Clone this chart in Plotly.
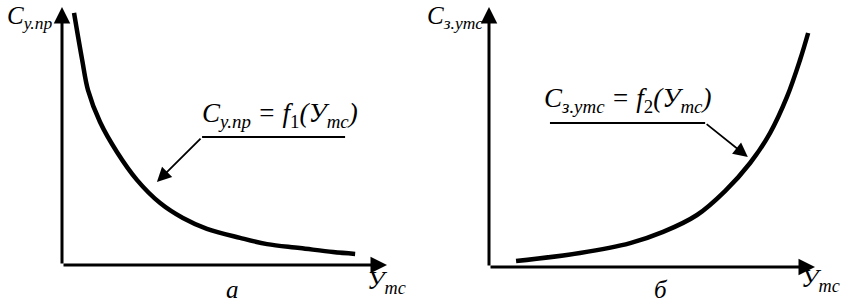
import plotly.graph_objects as go

# Panel a: C_у.пр = f1(У_тс) (decreasing)
a_x = [0.37, 0.62, 0.80, 1.17, 1.69, 2.31, 3.02, 3.72, 4.46, 5.48, 6.31, 7.32, 8.34, 9.02]
a_y = [9.77, 7.95, 6.78, 5.54, 4.38, 3.29, 2.40, 1.82, 1.40, 1.05, 0.81, 0.66, 0.50, 0.43]

# Panel б: C_з.утс = f2(У_тс) (increasing)
b_x = [0.83, 2.79, 4.33, 5.34, 6.38, 7.24, 8.01, 8.62, 9.14, 9.54, 9.79]
b_y = [0.23, 0.54, 0.92, 1.35, 2.00, 2.92, 4.00, 5.15, 6.54, 7.96, 9.00]

label_a_y = "<i>С<sub>у.пр</sub></i>"
label_b_y = "<i>С<sub>з.утс</sub></i>"
label_x = "<i>У<sub>тс</sub></i>"
formula_a = "<i>С<sub>у.пр</sub> = f</i><sub>1</sub><i>(У<sub>тс</sub>)</i>"
formula_b = "<i>С<sub>з.утс</sub> = f</i><sub>2</sub><i>(У<sub>тс</sub>)</i>"
panel_a = "<i>а</i>"
panel_b = "<i>б</i>"

W, H = 853, 304
FONT = "Liberation Serif"
INK = "#000000"

fig = go.Figure()
fig.add_trace(go.Scatter(x=a_x, y=a_y, mode="lines",
                         line=dict(color=INK, width=4.5, shape="spline", smoothing=1.0),
                         xaxis="x", yaxis="y", showlegend=False, hoverinfo="skip"))
fig.add_trace(go.Scatter(x=b_x, y=b_y, mode="lines",
                         line=dict(color=INK, width=4.5, shape="spline", smoothing=1.0),
                         xaxis="x2", yaxis="y2", showlegend=False, hoverinfo="skip"))

def px_x(p):
    return p / W

def px_y(p):
    return (H - p) / H

ax_common = dict(visible=False, fixedrange=True)
fig.update_layout(
    width=W, height=H,
    margin=dict(l=0, r=0, t=0, b=0),
    paper_bgcolor="white", plot_bgcolor="white",
    xaxis=dict(domain=[px_x(62), px_x(387)], range=[0, 10], anchor="y", **ax_common),
    yaxis=dict(domain=[px_y(265), px_y(7)], range=[0, 10], anchor="x", **ax_common),
    xaxis2=dict(domain=[px_x(489), px_x(815)], range=[0, 10], anchor="y2", **ax_common),
    yaxis2=dict(domain=[px_y(267), px_y(7)], range=[0, 10], anchor="x2", **ax_common),
    showlegend=False,
)

annotations = []

def arrow(xref, yref, x0, y0, x1, y1, width, size):
    annotations.append(dict(x=x1, y=y1, ax=x0, ay=y0, xref=xref, yref=yref, axref=xref, ayref=yref,
                            text="", showarrow=True, arrowhead=2, arrowsize=size, arrowwidth=width,
                            arrowcolor=INK, standoff=0, startstandoff=0))

# axes with arrows
arrow("x", "y", 0, 0, 10, 0, 3, 1.1)
arrow("x", "y", 0, 0, 0, 10, 3, 1.1)
arrow("x2", "y2", 0, 0, 10, 0, 3, 1.1)
arrow("x2", "y2", 0, 0, 0, 10, 3, 1.1)

# callout arrows
arrow("x", "y", 4.31, 4.96, 2.92, 3.22, 1.8, 1.6)
arrow("x2", "y2", 6.63, 5.54, 7.94, 4.23, 1.8, 1.6)

shapes = [
    dict(type="line", xref="x", yref="y", x0=4.31, y0=4.96, x1=8.71, y1=4.96, line=dict(color=INK, width=2)),
    dict(type="line", xref="x2", yref="y2", x0=1.87, y0=5.54, x1=6.63, y1=5.54, line=dict(color=INK, width=2)),
]

def text(xref, yref, x, y, s, size, xanchor="center", yanchor="middle"):
    annotations.append(dict(x=x, y=y, xref=xref, yref=yref, text=s, showarrow=False,
                            xanchor=xanchor, yanchor=yanchor,
                            font=dict(family=FONT, size=size, color=INK)))

text("paper", "paper", px_x(200), px_y(115), formula_a, 27, "left", "middle")
text("paper", "paper", px_x(542), px_y(100), formula_b, 27, "left", "middle")

text("paper", "paper", px_x(5), px_y(17), label_a_y, 25, "left", "middle")
text("paper", "paper", px_x(425), px_y(17), label_b_y, 25, "left", "middle")
text("paper", "paper", px_x(365), px_y(282), label_x, 26, "left", "middle")
text("paper", "paper", px_x(799), px_y(280), label_x, 26, "left", "middle")
text("paper", "paper", px_x(232), px_y(289), panel_a, 25)
text("paper", "paper", px_x(661), px_y(289), panel_b, 25)

fig.update_layout(annotations=annotations, shapes=shapes)
fig.write_html("out.html", config={"displayModeBar": False},
               post_script="document.body.style.margin='0';")
